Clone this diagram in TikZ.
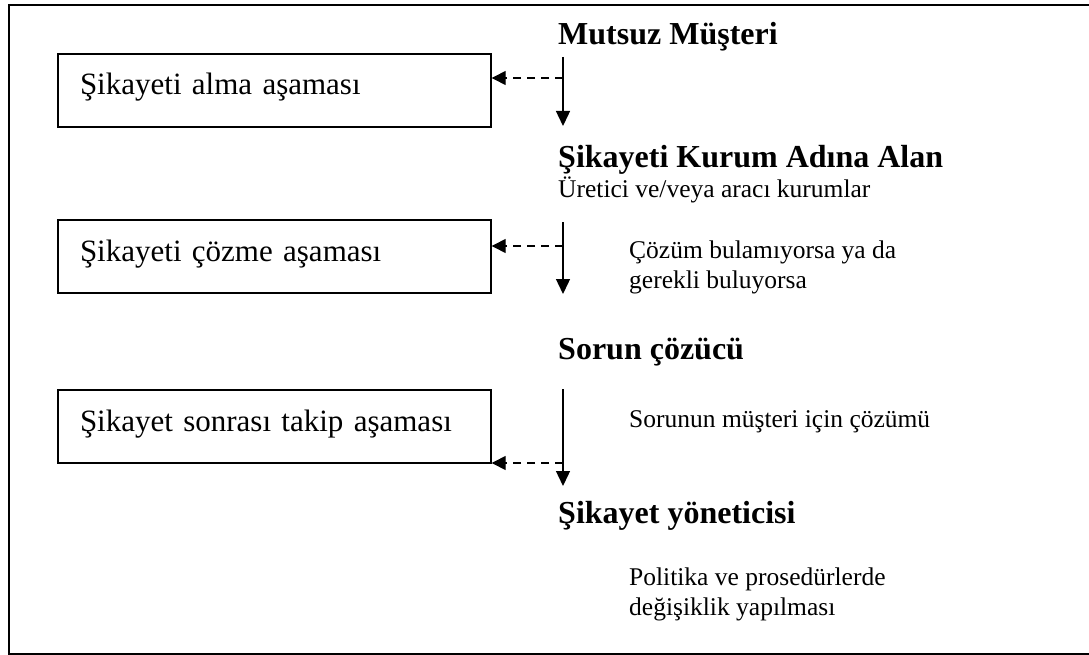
\documentclass[tikz,border=0pt]{standalone}
\usepackage{fontspec}
\setmainfont{Liberation Serif}
\usetikzlibrary{arrows.meta}
\begin{document}
\begin{tikzpicture}[x=1pt,y=-1pt,
  stagebox/.style={draw, line width=1.4pt, minimum width=433pt, minimum height=73pt,
    inner xsep=22pt, inner ysep=0pt, text width=389pt, align=left,
    text height=15pt, text depth=6pt, font=\fontsize{31}{35}\selectfont},
  role/.style={anchor=base west, inner sep=0pt, font=\fontsize{32}{36}\selectfont\bfseries},
  note/.style={anchor=base west, inner sep=0pt, align=left, font=\fontsize{25.5}{29.5}\selectfont},
  flow/.style={line width=1.4pt, -{Triangle[length=15pt,width=14pt]}},
  dasharrow/.style={line width=1.4pt, dash pattern=on 8pt off 6pt, -{Triangle[length=14pt,width=14pt]}}]
\useasboundingbox (0,0) rectangle (1089,655);
\clip (0,0) rectangle (1089,655);
% outer frame, open to the right
\draw[line width=2pt] (1100,5) -- (9,5) -- (9,654) -- (1100,654);

% stage boxes
\node[stagebox] (box1) at (274.5,90.5) {Şikayeti alma aşaması};
\node[stagebox] (box2) at (274.5,256.5) {Şikayeti çözme aşaması};
\node[stagebox] (box3) at (274.5,426.5) {Şikayet sonrası takip aşaması};

% roles along the chain
\node[role] (cust) at (558,45) {Mutsuz Müşteri};
\node[role] (recv) at (558,168) {Şikayeti Kurum Adına Alan};
\node[note] (recvnote) at (558,197) {Üretici ve/veya aracı kurumlar};
\node[role] (solver) at (558,359) {Sorun çözücü};
\node[role] (mgr) at (558,523) {Şikayet yöneticisi};

% side notes (anchored at the baseline of their last line)
\node[note] (cond) at (629,288) {Çözüm bulamıyorsa ya da\\gerekli buluyorsa};
\node[note] (fix) at (629,427) {Sorunun müşteri için çözümü};
\node[note] (policy) at (629,615) {Politika ve prosedürlerde\\değişiklik yapılması};

% vertical flow
\coordinate (a1s) at (563,57);  \coordinate (a1e) at (563,126);
\coordinate (a2s) at (563,222); \coordinate (a2e) at (563,294);
\coordinate (a3s) at (563,389); \coordinate (a3e) at (563,486);
\draw[flow] (a1s) -- (a1e);
\draw[flow] (a2s) -- (a2e);
\draw[flow] (a3s) -- (a3e);

% dashed links to the stages
\coordinate (d1) at (563,78);
\coordinate (d2) at (563,246);
\coordinate (d3) at (563,463);
\draw[dasharrow] (d1) -- (d1 -| box1.east);
\draw[dasharrow] (d2) -- (d2 -| box2.east);
\draw[dasharrow] (d3) -- (d3 -| box3.east);
\end{tikzpicture}
\end{document}
